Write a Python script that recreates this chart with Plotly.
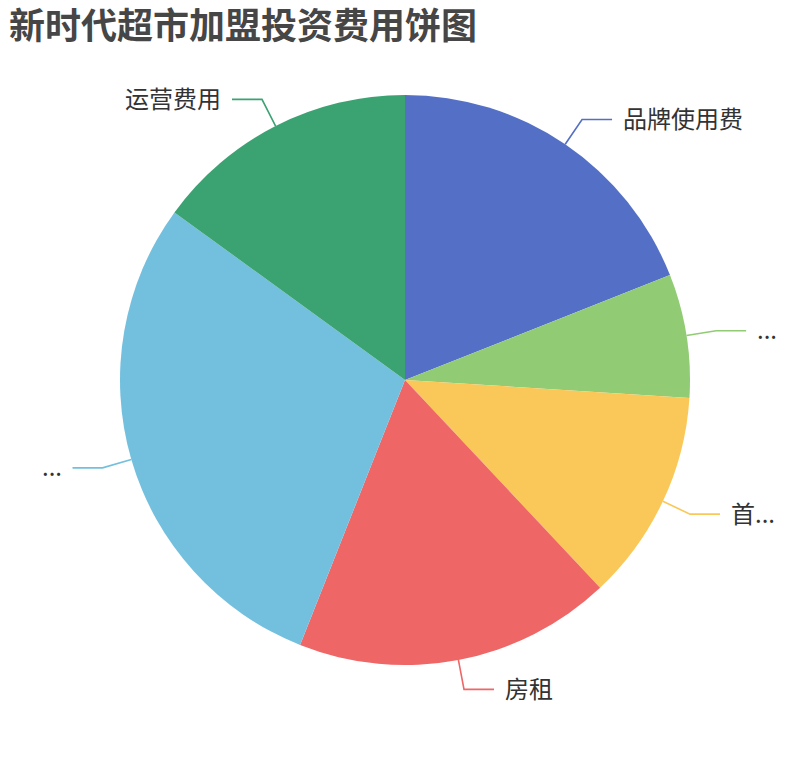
import math

import plotly.graph_objects as go

# slice data (clockwise from 12 o'clock)
categories = ["品牌使用费", "加盟保证金及管理费", "首批进货费用", "房租", "店面装修及设备购置费", "运营费用"]
shown_labels = ["品牌使用费", "...", "首...", "房租", "...", "运营费用"]
values = [19, 7, 12, 18, 29, 15]
colors = ["#5470c6", "#91cc75", "#fac858", "#ee6666", "#73c0de", "#3ba272"]

W, H = 810, 760
CX, CY, R = 405, 380, 285  # pie centre / radius in px


def px2paper(x, y):
	return x / W, 1 - y / H


fig = go.Figure(go.Pie(
	labels=categories,
	values=values,
	sort=False,
	direction="clockwise",
	rotation=0,
	textinfo="none",
	marker=dict(colors=colors, line=dict(width=0)),
	domain=dict(x=[(CX - R) / W, (CX + R) / W], y=[(H - CY - R) / H, (H - CY + R) / H]),
	showlegend=False,
))

# label lines + labels, placed from the slice mid angles
total = sum(values)
cum = 0
for lab, v, c in zip(shown_labels, values, colors):
	mid = (cum + v / 2) / total * 2 * math.pi
	cum += v
	sx, sy = math.sin(mid), -math.cos(mid)
	x0, y0 = CX + R * sx, CY + R * sy
	x1, y1 = CX + 315 * sx, CY + 315 * sy
	side = 1 if sx >= 0 else -1
	x2 = x1 + 30 * side
	p0, p1, p2 = px2paper(x0, y0), px2paper(x1, y1), px2paper(x2, y1)
	fig.add_shape(type="path", xref="paper", yref="paper",
				  path=f"M {p0[0]} {p0[1]} L {p1[0]} {p1[1]} L {p2[0]} {p2[1]}",
				  line=dict(color=c, width=1.6))
	tx, ty = px2paper(x2 + 9 * side, y1 - 2)
	fig.add_annotation(x=tx, y=ty, xref="paper", yref="paper", text=lab, showarrow=False,
					   xanchor="left" if side > 0 else "right", yanchor="middle",
					   font=dict(size=24, color="#333333", family="Noto Sans CJK SC"))

fig.update_layout(
	width=W, height=H,
	margin=dict(l=0, r=0, t=0, b=0),
	paper_bgcolor="white",
	title=dict(text="<b>新时代超市加盟投资费用饼图</b>", xref="container", yref="container",
			   x=9 / W, xanchor="left", y=1 - 26 / H, yanchor="middle",
			   font=dict(size=36, color="#464646", family="Noto Sans CJK SC")),
)

fig.write_html("out.html", config={"displayModeBar": False},
			   post_script="document.body.style.margin='0';")
